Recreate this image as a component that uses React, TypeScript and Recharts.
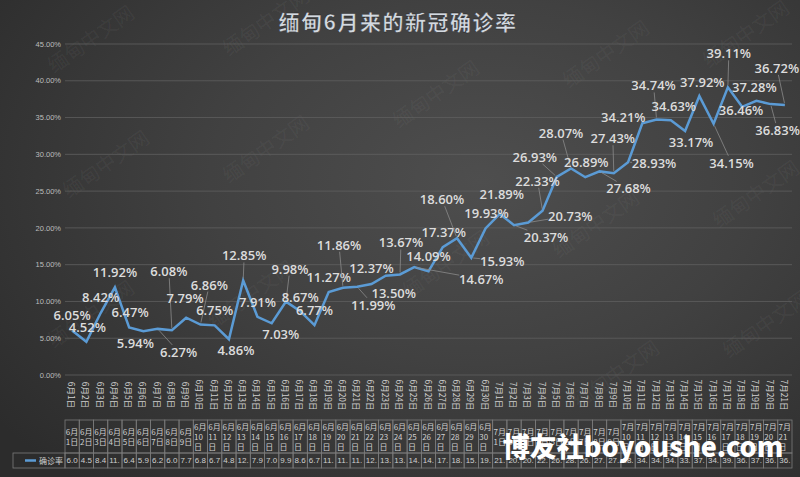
import React from 'react';
import { ComposedChart, Line, XAxis, YAxis, CartesianGrid, LabelList } from 'recharts';

// Dates (categories) for the daily series
const DATES: string[] = [
  '6月1日', '6月2日', '6月3日', '6月4日', '6月5日', '6月6日', '6月7日', '6月8日', '6月9日', '6月10日',
  '6月11日', '6月12日', '6月13日', '6月14日', '6月15日', '6月16日', '6月17日', '6月18日', '6月19日', '6月20日',
  '6月21日', '6月22日', '6月23日', '6月24日', '6月25日', '6月26日', '6月27日', '6月28日', '6月29日', '6月30日',
  '7月1日', '7月2日', '7月3日', '7月4日', '7月5日', '7月6日', '7月7日', '7月8日', '7月9日', '7月10日',
  '7月11日', '7月12日', '7月13日', '7月14日', '7月15日', '7月16日', '7月17日', '7月18日', '7月19日', '7月20日',
  '7月21日',
];

// Positivity rate (%) per day
const RATES: number[] = [
  6.05, 4.52, 8.42, 11.92, 6.47, 5.94, 6.27, 6.08, 7.79, 6.86,
  6.75, 4.86, 12.85, 7.91, 7.03, 9.98, 8.67, 6.77, 11.27, 11.86,
  11.99, 12.37, 13.5, 13.67, 14.67, 14.09, 17.37, 18.6, 15.93, 19.93,
  21.89, 20.37, 20.73, 22.33, 26.93, 28.07, 26.89, 27.68, 27.43, 28.93,
  34.21, 34.74, 34.63, 33.17, 37.92, 34.15, 39.11, 36.46, 37.28, 36.83,
  36.72,
];

const Y_TICKS: number[] = [0, 5, 10, 15, 20, 25, 30, 35, 40, 45];

const SERIES_NAME = '确诊率';
const TITLE = '缅甸6月来的新冠确诊率';

// Data-label placement (offset of the label centre from its point), like the spreadsheet's auto layout
const LABEL_PLACEMENT: [number, number][] = [
  [0, -15], [1, -15], [0, -16], [0, -15], [1, -15], [-8, 12], [21, 23], [-3, -59], [-1, -20], [9, -40],
  [0, -15], [7, 11], [1, -25], [0, -15], [9, 11], [4, -33], [0, -14], [0, -15], [0, -15], [-4, -43],
  [16, 18], [0, -16], [8, 17], [1, -32], [67, 12], [0, -15], [1, -15], [-15, -39], [31, 3], [1, -15],
  [2, -20], [32, 12], [42, -7], [-5, -30], [-22, -20], [-10, -36], [1, -15], [29, 17], [-1, -35], [26, 1],
  [-19, -6], [-3, -34], [3, -14], [6, 11], [3, -14], [18, 39], [1, -34], [-1, 3], [-2, -14], [7, 26],
  [-8, -37],
];

const data = DATES.map((date, i) => ({ date, rate: RATES[i] }));

const W = 800;
const H = 477;
const MARGIN = { top: 44, right: 8, bottom: 0, left: 5 };
const Y_AXIS_W = 60;
const X_AXIS_H = 102;
const PLOT_W = W - MARGIN.left - MARGIN.right - Y_AXIS_W;
const BAND = PLOT_W / DATES.length;

const TEXT = '#cfcfcf';
const LINE = '#5b9bd5';
const TABLE_LINE = '#7a7a7a';
const FONT = '"Noto Sans CJK SC", "Open Sans", sans-serif';

const pct = (v: number) => `${v.toFixed(2)}%`;

// Category tick: rotated date, then this column of the data table underneath
const DateTick = (props: any) => {
  const { x, y, payload, index } = props;
  const label: string = payload.value;
  const i: number = index;
  const left = x - BAND / 2;
  const headTop = y + 45;
  const headBottom = y + 78;
  const valBottom = y + 93;
  const m = label.match(/^(\d+月)(\d+)(日)$/);
  const head: string[] = m ? (m[2].length === 1 ? [m[1], m[2] + m[3]] : [m[1], m[2], m[3]]) : [label];
  const lineH = 10;
  const startY = (headTop + headBottom) / 2 - ((head.length - 1) * lineH) / 2;
  const cell = RATES[i].toFixed(2).slice(0, 3);
  return (
    <g>
      <text
        x={x}
        y={y + 20}
        transform={`rotate(90, ${x}, ${y + 20})`}
        textAnchor="middle"
        dominantBaseline="central"
        fontSize={8.5}
        fill={TEXT}
        fontFamily={FONT}
      >
        {label}
      </text>
      <rect x={left} y={headTop} width={BAND} height={headBottom - headTop} fill="none" stroke={TABLE_LINE} strokeWidth={0.8} />
      <rect x={left} y={headBottom} width={BAND} height={valBottom - headBottom} fill="none" stroke={TABLE_LINE} strokeWidth={0.8} />
      {head.map((t, k) => (
        <text
          key={k}
          x={left + 0.8}
          y={startY + k * lineH}
          dominantBaseline="central"
          fontSize={8}
          fill={TEXT}
          fontFamily={FONT}
        >
          {t}
        </text>
      ))}
      <text
        x={left + 1.5}
        y={(headBottom + valBottom) / 2}
        dominantBaseline="central"
        fontSize={8}
        fill={TEXT}
        fontFamily='"Liberation Sans", sans-serif'
      >
        {cell}
      </text>
      {i === 0 && (
        <g>
          <rect x={left - 52} y={headBottom} width={52} height={valBottom - headBottom} fill="none" stroke={TABLE_LINE} strokeWidth={0.8} />
          <line x1={left - 40} x2={left - 29} y1={(headBottom + valBottom) / 2} y2={(headBottom + valBottom) / 2} stroke={LINE} strokeWidth={2.5} />
          <text
            x={left - 26}
            y={(headBottom + valBottom) / 2}
            dominantBaseline="central"
            fontSize={8}
            fill={TEXT}
            fontFamily={FONT}
          >
            {SERIES_NAME}
          </text>
        </g>
      )}
    </g>
  );
};

// Data label with an optional leader line back to its point
const RateLabel = (props: any) => {
  const { x, y, value, index } = props;
  const [dx, dy] = LABEL_PLACEMENT[index] || [0, -15];
  const cx = x + dx;
  const cy = y + dy;
  const dist = Math.hypot(dx, dy);
  let leader = null;
  if (dist > 24) {
    const hw = 22;
    const hh = 7;
    const t = Math.min(dx !== 0 ? hw / Math.abs(dx) : Infinity, dy !== 0 ? hh / Math.abs(dy) : Infinity);
    const sx = cx - dx * t;
    const sy = cy - dy * t;
    const ex = x + (dx / dist) * 2;
    const ey = y + (dy / dist) * 2;
    leader = <line x1={sx} y1={sy} x2={ex} y2={ey} stroke="#8a8a8a" strokeWidth={0.8} />;
  }
  return (
    <g>
      {leader}
      <text
        x={cx}
        y={cy}
        textAnchor="middle"
        dominantBaseline="central"
        fontSize={13}
        fontWeight={600}
        fill="#dcdcdc"
        fontFamily='"Open Sans", sans-serif'
      >
        {pct(value)}
      </text>
    </g>
  );
};

const WATERMARKS: [number, number][] = [
  [95, 45], [270, 28], [110, 170], [270, 155], [95, 320], [255, 300], [440, 100], [610, 60], [750, 40],
  [600, 230], [760, 200], [450, 270], [620, 380], [770, 330],
];

export default function App() {
  return (
    <div
      style={{
        position: 'absolute',
        left: 0,
        top: 0,
        width: W,
        height: H,
        background: 'radial-gradient(ellipse 75% 85% at 60% 38%, #4e4e4e 0%, #414141 45%, #2c2c2c 100%)',
        overflow: 'hidden',
      }}
    >
      <svg width={W} height={H} style={{ position: 'absolute', left: 0, top: 0 }}>
        {WATERMARKS.map(([wx, wy], k) => (
          <text
            key={k}
            x={wx}
            y={wy}
            transform={`rotate(-35, ${wx}, ${wy})`}
            textAnchor="middle"
            fontSize={20}
            fill="#ffffff"
            fillOpacity={0.05}
            fontFamily={FONT}
          >
            缅甸中文网
          </text>
        ))}
      </svg>
      <div style={{ position: 'absolute', left: 0, top: 0 }}>
        <ComposedChart width={W} height={H} data={data} margin={MARGIN}>
          <CartesianGrid vertical={false} stroke="#606060" strokeWidth={0.8} />
          <XAxis
            dataKey="date"
            scale="band"
            interval={0}
            tickLine={false}
            axisLine={false}
            tickSize={0}
            tickMargin={0}
            height={X_AXIS_H}
            tick={<DateTick />}
          />
          <YAxis
            domain={[0, 45]}
            ticks={Y_TICKS}
            width={Y_AXIS_W}
            tickLine={false}
            axisLine={false}
            tickSize={0}
            tickMargin={4}
            tickFormatter={pct}
            tick={{ fontSize: 7.5, fill: '#bdbdbd', fontFamily: '"Liberation Sans", sans-serif' }}
          />
          <Line
            type="linear"
            dataKey="rate"
            name={SERIES_NAME}
            stroke={LINE}
            strokeWidth={2.5}
            dot={false}
            isAnimationActive={false}
          >
            <LabelList dataKey="rate" content={<RateLabel />} />
          </Line>
        </ComposedChart>
      </div>
      <svg width={W} height={H} style={{ position: 'absolute', left: 0, top: 0, pointerEvents: 'none' }}>
        <text
          x={398}
          y={21}
          textAnchor="middle"
          dominantBaseline="central"
          fontSize={21}
          fontWeight={700}
          letterSpacing={1.5}
          fill="#d3d9e0"
          stroke="#1f1f1f"
          strokeWidth={0.4}
          fontFamily={FONT}
        >
          {TITLE}
        </text>
        <text
          x={643}
          y={445}
          textAnchor="middle"
          dominantBaseline="central"
          fontSize={27}
          fontWeight={900}
          fill="#ffffff"
          fontFamily={FONT}
        >
          博友社boyoushe.com
        </text>
      </svg>
    </div>
  );
}
